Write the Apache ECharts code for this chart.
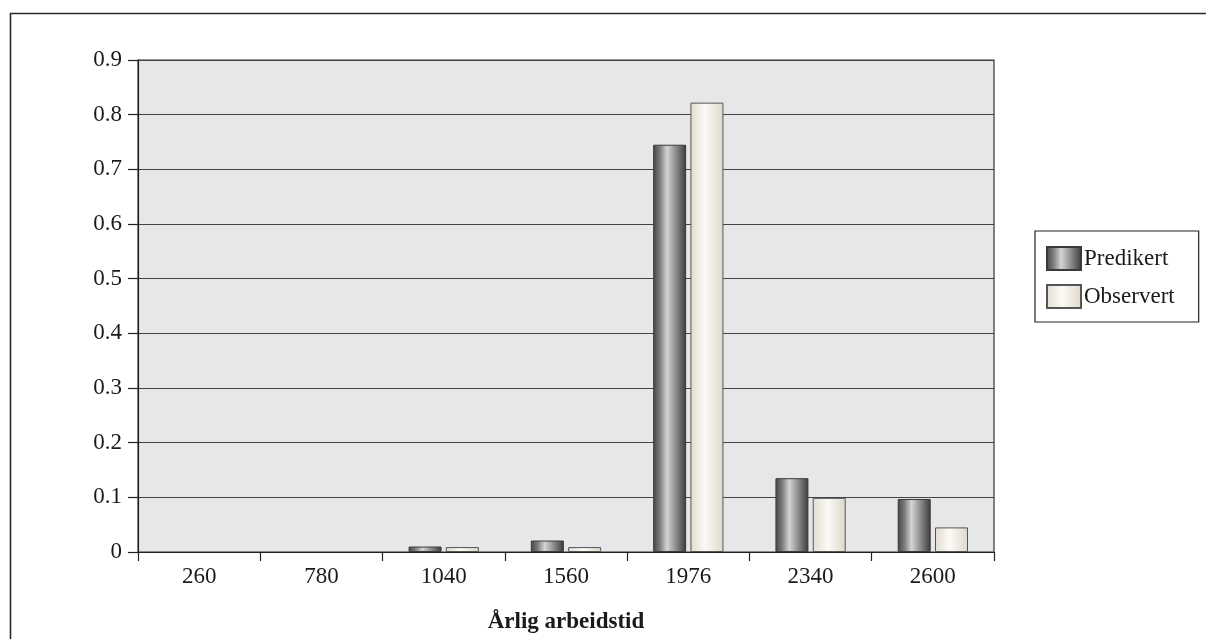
<!DOCTYPE html>
<html>
<head>
<meta charset="utf-8">
<script src="https://cdn.jsdelivr.net/npm/echarts@6/dist/echarts.min.js"></script>
<style>
  html, body { margin: 0; padding: 0; background: #ffffff; }
  #chart { width: 1206px; height: 639px; }
</style>
</head>
<body>
<div id="chart"></div>
<script>
// Annual working hours (categories) and share of people in each group
const categories = ['260', '780', '1040', '1560', '1976', '2340', '2600'];
const predikert = [0, 0, 0.010, 0.021, 0.745, 0.135, 0.097];
const observert = [0, 0, 0.009, 0.009, 0.822, 0.099, 0.045];
const seriesNames = ['Predikert', 'Observert'];
const axisTitle = 'Årlig arbeidstid';

const serif = '"Liberation Serif", "DejaVu Serif", serif';

// Cylinder-like horizontal shading for the bars
const darkFill = new echarts.graphic.LinearGradient(0, 0, 1, 0, [
  { offset: 0, color: '#454545' },
  { offset: 0.2, color: '#7a7a7a' },
  { offset: 0.42, color: '#d4d4d4' },
  { offset: 0.6, color: '#a4a4a4' },
  { offset: 1, color: '#3a3a3a' }
]);
const lightFill = new echarts.graphic.LinearGradient(0, 0, 1, 0, [
  { offset: 0, color: '#e1dccf' },
  { offset: 0.45, color: '#fbfaf6' },
  { offset: 1, color: '#ddd8ca' }
]);

// Zero values get no outline so they leave no trace on the axis
const toBarData = arr => arr.map(v => (v === 0 ? { value: 0, itemStyle: { borderWidth: 0, opacity: 0 } } : v));

const chart = echarts.init(document.getElementById('chart'), null, { renderer: 'canvas' });

chart.setOption({
  animation: false,
  backgroundColor: '#ffffff',
  textStyle: { fontFamily: serif },
  graphic: [{
    type: 'rect',
    shape: { x: 10.5, y: 13.5, width: 1400, height: 800 },
    style: { fill: 'none', stroke: '#2a2a2a', lineWidth: 1.6 },
    silent: true,
    z: -10
  }],
  grid: {
    left: 138, top: 60, right: 212, bottom: 86,
    show: true,
    backgroundColor: '#e6e7e9',
    borderColor: '#333333',
    borderWidth: 1.2
  },
  legend: {
    orient: 'vertical',
    left: 1035,
    top: 231,
    padding: [15, 24, 13, 11],
    itemWidth: 34,
    itemHeight: 23,
    itemGap: 13,
    icon: 'rect',
    borderColor: '#222222',
    borderWidth: 1.2,
    backgroundColor: '#ffffff',
    textStyle: { fontFamily: serif, fontSize: 23, color: '#1a1a1a', padding: [0, 0, 0, -2] },
    data: seriesNames
  },
  xAxis: {
    type: 'category',
    data: categories,
    name: axisTitle,
    nameLocation: 'middle',
    nameGap: 59,
    nameTextStyle: { fontFamily: serif, fontSize: 23, fontWeight: 'bold', color: '#1a1a1a' },
    axisLine: { lineStyle: { color: '#222222', width: 1.2 } },
    axisTick: { show: true, length: 9, lineStyle: { color: '#222222', width: 1.2 } },
    axisLabel: { fontFamily: serif, fontSize: 23, color: '#1a1a1a', margin: 13 }
  },
  yAxis: {
    type: 'value',
    min: 0,
    max: 0.9,
    interval: 0.1,
    axisLine: { show: true, lineStyle: { color: '#222222', width: 1.2 } },
    axisTick: { show: true, length: 10, lineStyle: { color: '#222222', width: 1.2 } },
    axisLabel: {
      fontFamily: serif, fontSize: 23, color: '#1a1a1a', margin: 16,
      formatter: v => (Math.round(v * 10) / 10).toString()
    },
    splitLine: { lineStyle: { color: '#444444', width: 1.2 } }
  },
  series: [
    {
      name: seriesNames[0],
      type: 'bar',
      data: toBarData(predikert),
      barWidth: 33,
      barGap: '13%',
      itemStyle: { color: darkFill, borderColor: '#3a3a3a', borderWidth: 1 }
    },
    {
      name: seriesNames[1],
      type: 'bar',
      data: toBarData(observert),
      barWidth: 33,
      itemStyle: { color: lightFill, borderColor: '#555555', borderWidth: 1 }
    }
  ]
});
</script>
</body>
</html>
